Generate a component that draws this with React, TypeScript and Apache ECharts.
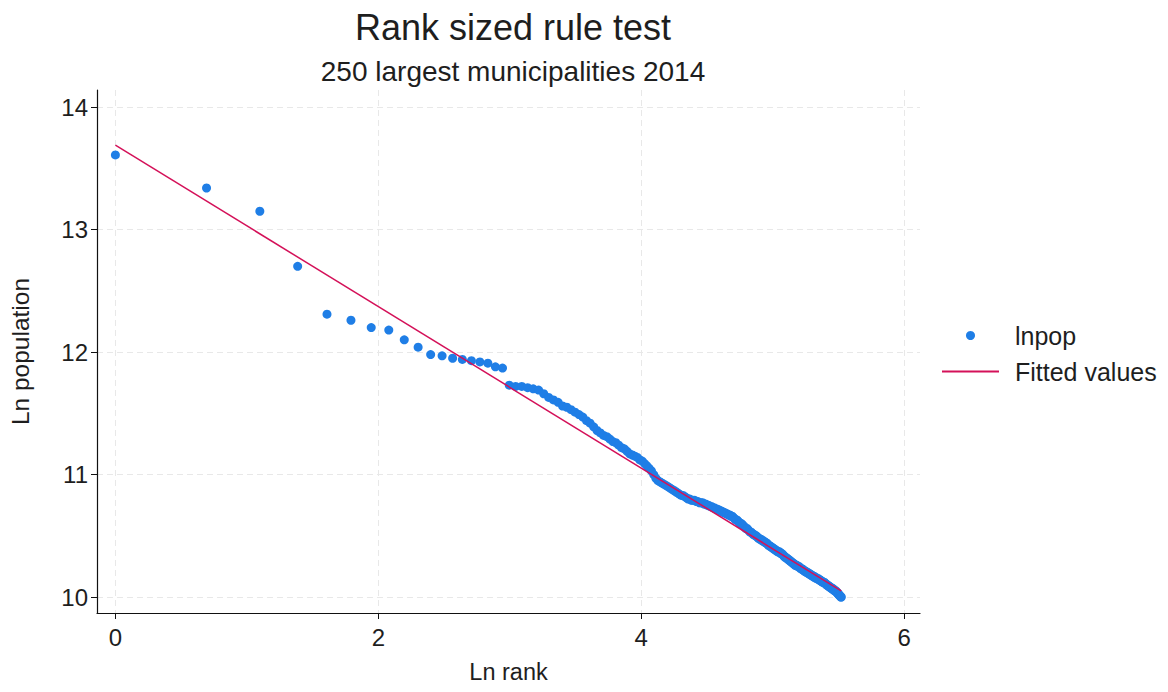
import React, { useEffect, useRef } from "react";
import * as echarts from "echarts";

// Ln population of the 250 largest municipalities, ordered by rank (1..250)
const lnpop: number[] = [
  13.61, 13.34, 13.15, 12.70, 12.31, 12.26, 12.20, 12.18, 12.10, 12.04,
  11.98, 11.97, 11.95, 11.94, 11.93, 11.92, 11.91, 11.88, 11.87, 11.73,
  11.72, 11.72, 11.71, 11.70, 11.69, 11.66, 11.63, 11.61, 11.59, 11.56,
  11.55, 11.53, 11.51, 11.49, 11.47, 11.44, 11.42, 11.39, 11.36, 11.34,
  11.32, 11.31, 11.29, 11.27, 11.26, 11.24, 11.22, 11.21, 11.19, 11.17,
  11.16, 11.15, 11.14, 11.12, 11.11, 11.09, 11.07, 11.05, 11.03, 11.00,
  10.97, 10.95, 10.94, 10.93, 10.92, 10.91, 10.90, 10.89, 10.88, 10.87,
  10.86, 10.85, 10.84, 10.83, 10.83, 10.82, 10.81, 10.80, 10.80, 10.79,
  10.79, 10.79, 10.78, 10.78, 10.77, 10.77, 10.77, 10.76, 10.76, 10.75,
  10.75, 10.74, 10.74, 10.73, 10.73, 10.72, 10.72, 10.71, 10.71, 10.70,
  10.70, 10.69, 10.69, 10.68, 10.68, 10.67, 10.67, 10.66, 10.66, 10.65,
  10.64, 10.63, 10.63, 10.62, 10.61, 10.60, 10.60, 10.59, 10.58, 10.57,
  10.56, 10.56, 10.55, 10.54, 10.53, 10.53, 10.52, 10.51, 10.51, 10.50,
  10.50, 10.49, 10.48, 10.48, 10.47, 10.47, 10.46, 10.46, 10.45, 10.45,
  10.44, 10.44, 10.43, 10.42, 10.42, 10.41, 10.41, 10.40, 10.40, 10.39,
  10.39, 10.38, 10.38, 10.37, 10.37, 10.37, 10.36, 10.36, 10.35, 10.35,
  10.34, 10.33, 10.33, 10.32, 10.32, 10.31, 10.31, 10.30, 10.30, 10.29,
  10.29, 10.28, 10.28, 10.27, 10.27, 10.26, 10.26, 10.26, 10.25, 10.25,
  10.25, 10.24, 10.24, 10.23, 10.23, 10.23, 10.22, 10.22, 10.21, 10.21,
  10.21, 10.20, 10.20, 10.20, 10.19, 10.19, 10.19, 10.18, 10.18, 10.18,
  10.17, 10.17, 10.17, 10.16, 10.16, 10.16, 10.15, 10.15, 10.15, 10.15,
  10.14, 10.14, 10.14, 10.13, 10.13, 10.13, 10.12, 10.12, 10.12, 10.12,
  10.11, 10.11, 10.10, 10.10, 10.10, 10.09, 10.09, 10.09, 10.08, 10.08,
  10.08, 10.07, 10.07, 10.07, 10.06, 10.06, 10.06, 10.05, 10.05, 10.05,
  10.04, 10.04, 10.03, 10.03, 10.02, 10.02, 10.01, 10.01, 10.00, 10.00,
];

// Ranks 1..250 and their natural log
const ranks: number[] = lnpop.map((_, i) => i + 1);
const lnRank: number[] = ranks.map((r) => Math.log(r));

// Fitted regression line (endpoints at ln rank 0 and ln 250)
const fittedX: number[] = [0, 5.521];
const fittedY: number[] = [13.69, 10.05];

const xTicks: number[] = [0, 2, 4, 6];
const yTicks: number[] = [10, 11, 12, 13, 14];

const titleText = "Rank sized rule test";
const subtitleText = "250 largest municipalities 2014";
const xName = "Ln rank";
const yName = "Ln population";
const seriesNames = ["lnpop", "Fitted values"];

const FONT = "'Liberation Sans', Arial, Helvetica, sans-serif";
const TEXT = "#1e1e1e";

export default function App() {
  const ref = useRef<HTMLDivElement>(null);

  useEffect(() => {
    if (!ref.current) return;
    const chart = echarts.init(ref.current, undefined, { renderer: "svg" });
    const gridLine = {
      show: true,
      lineStyle: { color: "#e8e8e8", type: [6, 4] as any, width: 1 },
    };
    chart.setOption({
      animation: false,
      backgroundColor: "#ffffff",
      textStyle: { fontFamily: FONT },
      title: [
        {
          text: titleText,
          left: 508,
          textAlign: "center",
          top: 4,
          textStyle: { fontFamily: FONT, fontSize: 36, fontWeight: "normal", color: TEXT },
        },
        {
          text: subtitleText,
          left: 508,
          textAlign: "center",
          top: 52,
          textStyle: { fontFamily: FONT, fontSize: 28, fontWeight: "normal", color: TEXT },
        },
      ],
      legend: {
        orient: "vertical",
        left: 936,
        top: 318,
        itemWidth: 57,
        itemHeight: 9,
        itemGap: 11,
        data: [
          { name: seriesNames[0] },
          { name: seriesNames[1], itemStyle: { opacity: 0 } },
        ],
        textStyle: {
          fontFamily: FONT,
          fontSize: 25,
          color: TEXT,
          lineHeight: 24,
          padding: [0, 0, 0, 11],
        },
      },
      grid: { left: 97, right: 248, top: 90, bottom: 79, containLabel: false },
      xAxis: {
        type: "value",
        min: -0.14,
        max: 6.12,
        name: xName,
        nameLocation: "middle",
        nameGap: 47,
        nameTextStyle: { fontFamily: FONT, fontSize: 23.5, color: TEXT },
        axisLine: { show: true, onZero: false, lineStyle: { color: "#111", width: 1.2 } },
        axisTick: { show: true, length: 6, customValues: xTicks, lineStyle: { color: "#111" } },
        axisLabel: {
          customValues: xTicks,
          margin: 12,
          fontFamily: FONT,
          fontSize: 24,
          color: TEXT,
        },
        splitLine: gridLine,
      },
      yAxis: {
        type: "value",
        min: 9.87,
        max: 14.14,
        name: yName,
        nameLocation: "middle",
        nameRotate: 90,
        nameGap: 64,
        nameTextStyle: { fontFamily: FONT, fontSize: 24.5, color: TEXT },
        axisLine: { show: true, onZero: false, lineStyle: { color: "#111", width: 1.2 } },
        axisTick: { show: true, length: 6, customValues: yTicks, lineStyle: { color: "#111" } },
        axisLabel: {
          customValues: yTicks,
          margin: 9,
          fontFamily: FONT,
          fontSize: 24,
          color: TEXT,
        },
        splitLine: gridLine,
      },
      series: [
        {
          name: seriesNames[0],
          type: "scatter",
          symbol: "circle",
          symbolSize: 9,
          itemStyle: { color: "#1f7ee6", opacity: 1 },
          data: lnRank.map((x, i) => [x, lnpop[i]]),
          z: 2,
        },
        {
          name: seriesNames[1],
          type: "line",
          symbol: "none",
          showSymbol: false,
          lineStyle: { color: "#d41159", width: 1.5 },
          itemStyle: { color: "#d41159" },
          data: fittedX.map((x, i) => [x, fittedY[i]]),
          z: 3,
        },
      ],
    });
    return () => chart.dispose();
  }, []);

  return (
    <div
      ref={ref}
      style={{ position: "absolute", left: 0, top: 0, width: 1168, height: 692 }}
    />
  );
}
